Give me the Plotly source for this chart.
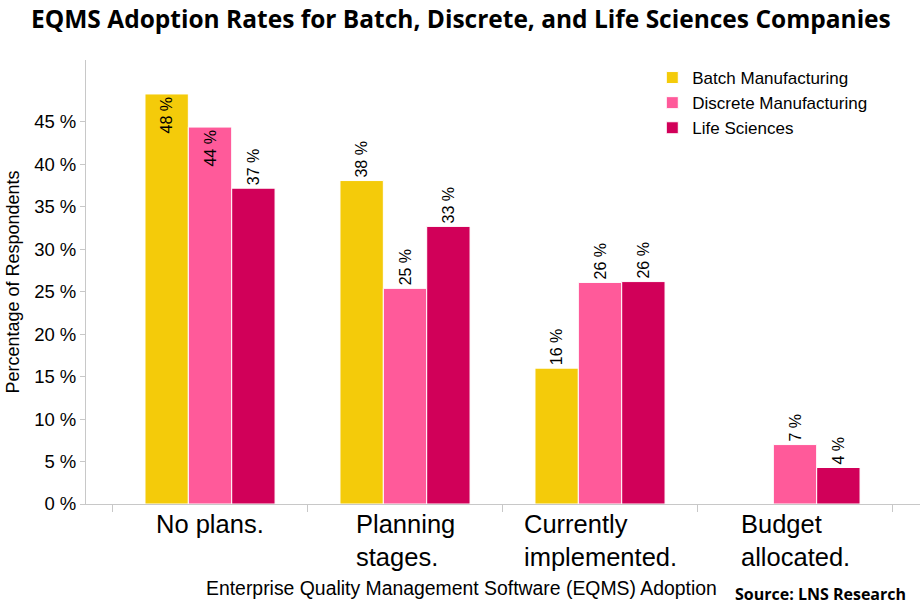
import plotly.graph_objects as go

# data
categories = ["No plans.", "Planning stages.", "Currently implemented.", "Budget allocated."]
category_labels = ["No plans.", "Planning<br>stages.", "Currently<br>implemented.", "Budget<br>allocated."]
batch = [48.3, 38.1, 16.0, None]
discrete = [44.4, 25.4, 26.1, 7.0]
life_sciences = [37.2, 32.7, 26.2, 4.3]
y_ticks = [0, 5, 10, 15, 20, 25, 30, 35, 40, 45]

COLORS = {
    "batch": "#F4CB0A",
    "discrete": "#FF5A9A",
    "life": "#D10059",
}


def labels(values):
    return ["" if v is None else f"{round(v)} %" for v in values]


def bar_trace(name, values, color, positions):
    return go.Bar(
        x=categories,
        y=values,
        name=name,
        marker={"color": color, "line": {"color": "white", "width": 1}},
        text=labels(values),
        textposition=positions,
        textangle=-90,
        insidetextanchor="end",
        constraintext="none",
        textfont={"family": "Liberation Sans", "size": 16, "color": "black"},
        cliponaxis=False,
    )


fig = go.Figure(data=[
    bar_trace("Batch Manufacturing", batch, COLORS["batch"],
              ["inside", "outside", "outside", "none"]),
    bar_trace("Discrete Manufacturing", discrete, COLORS["discrete"],
              ["inside", "outside", "outside", "outside"]),
    bar_trace("Life Sciences", life_sciences, COLORS["life"],
              ["outside", "outside", "outside", "outside"]),
])

fig.update_layout(
    width=920,
    height=612,
    margin={"l": 86, "r": 0, "t": 60, "b": 108, "autoexpand": False},
    paper_bgcolor="white",
    plot_bgcolor="white",
    barmode="group",
    bargap=0.333,
    bargroupgap=0,
    font={"family": "Liberation Sans", "color": "black"},
    title={
        "text": "<b>EQMS Adoption Rates for Batch, Discrete, and Life Sciences Companies</b>",
        "x": 0.501,
        "xanchor": "center",
        "y": 0.968,
        "yanchor": "middle",
        "font": {"family": "Open Sans", "size": 24.5, "color": "black"},
    },
    legend={
        "x": 0.679,
        "y": 1.0,
        "xanchor": "left",
        "yanchor": "top",
        "font": {"size": 17},
        "bgcolor": "rgba(0,0,0,0)",
        "tracegroupgap": 0,
    },
    showlegend=True,
)

fig.update_xaxes(
    range=[-0.636, 3.641],
    showticklabels=False,
    ticks="outside",
    tickson="boundaries",
    ticklen=7,
    tickcolor="#C8C8C8",
    showline=True,
    linecolor="#C8C8C8",
    linewidth=1,
    showgrid=False,
    automargin=False,
)

fig.update_yaxes(
    range=[0, 52.3],
    tickvals=y_ticks,
    ticktext=[f"{v} %" for v in y_ticks],
    tickfont={"size": 18.5},
    ticks="outside",
    ticklen=5,
    tickcolor="#C8C8C8",
    showline=True,
    linecolor="#C8C8C8",
    linewidth=1,
    showgrid=False,
    zeroline=False,
    automargin=False,
    title={"text": "Percentage of Respondents", "font": {"size": 18}, "standoff": 9},
)

# left-aligned category labels under each group
for cat, lab in zip(categories, category_labels):
    fig.add_annotation(
        x=cat, xref="x", y=0, yref="paper",
        text=lab, showarrow=False, align="left",
        xanchor="center", yanchor="top", yshift=-4,
        font={"size": 25.5},
    )

fig.add_annotation(
    x=0.45, xref="paper", y=-0.19, yref="paper",
    text="Enterprise Quality Management Software (EQMS) Adoption",
    showarrow=False, xanchor="center", yanchor="middle",
    font={"size": 19.4},
)

fig.add_annotation(
    x=0.9856, xref="paper", y=-0.203, yref="paper",
    text="<b>Source: LNS Research</b>",
    showarrow=False, xanchor="right", yanchor="middle",
    font={"family": "Open Sans", "size": 16},
)

# drop the default page margin so the figure sits at the window origin
fig.write_html(
    "out.html",
    config={"displayModeBar": False},
    post_script="document.body.style.margin = '0';",
)
